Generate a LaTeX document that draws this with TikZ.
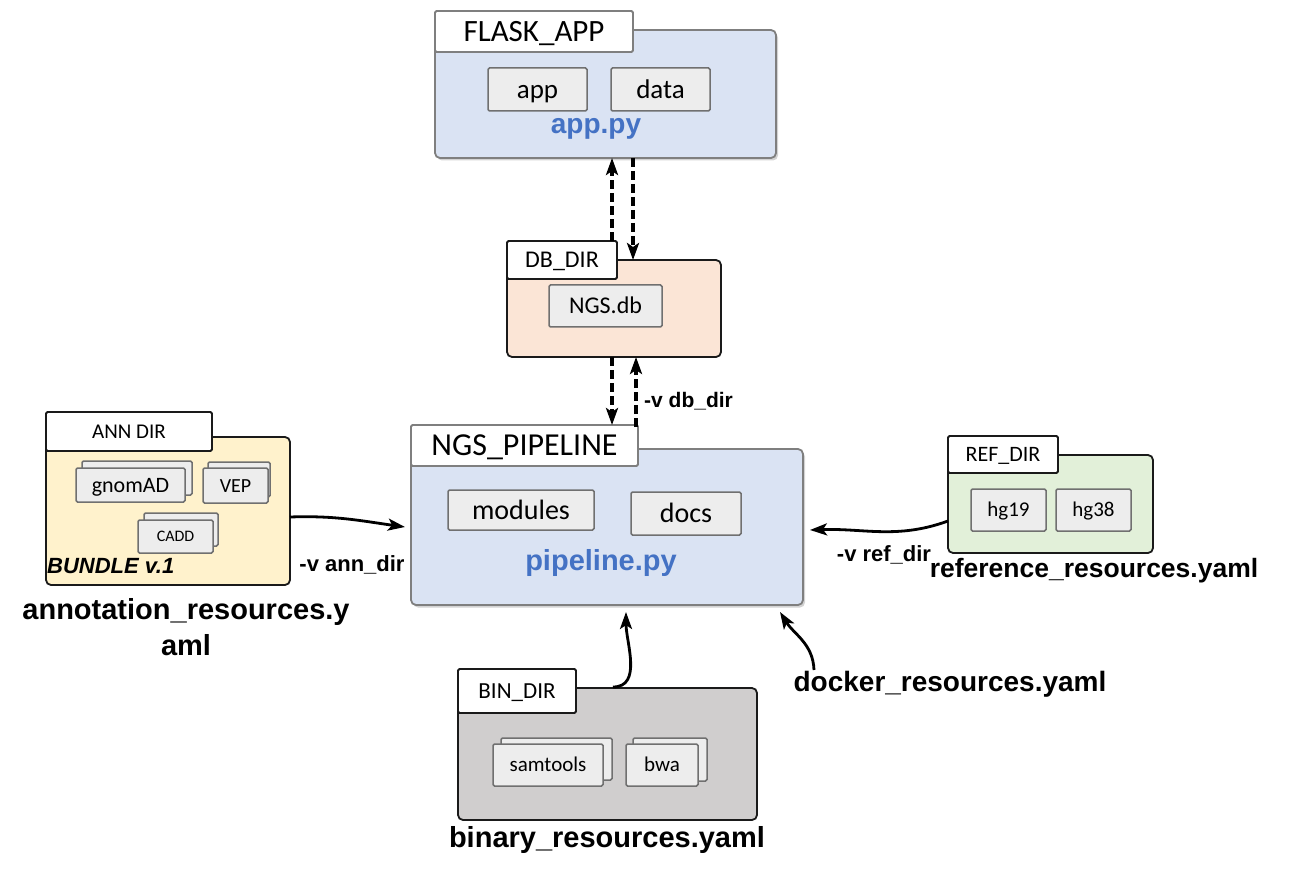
\documentclass[tikz,border=0pt]{standalone}
\usepackage{fontspec}
\setmainfont{Carlito}
\newfontfamily\lsans{Liberation Sans}
\usetikzlibrary{shadows,arrows.meta,calc}
\definecolor{bluefill}{HTML}{DAE3F3}
\definecolor{dbfill}{HTML}{FBE5D6}
\definecolor{annfill}{HTML}{FFF2CC}
\definecolor{reffill}{HTML}{E2F0D9}
\definecolor{binfill}{HTML}{D0CECE}
\definecolor{graybd}{HTML}{7F7F7F}
\definecolor{darkbd}{HTML}{1A1A1A}
\definecolor{itemfill}{HTML}{EDEDED}
\definecolor{itemline}{HTML}{707070}
\definecolor{bluetxt}{HTML}{4472C4}
\begin{document}
\begin{tikzpicture}[x=1pt,y=-1pt,
  mainbox/.style={draw=darkbd, line width=1.8pt, rounded corners=5pt, anchor=north west, inner sep=0pt, outer sep=0pt},
  tabbox/.style={draw=darkbd, fill=white, line width=1.8pt, rounded corners=1.5pt, anchor=north west, inner sep=0pt, outer sep=0pt},
  item/.style={draw=itemline, fill=itemfill, line width=1.5pt, rounded corners=1.5pt, anchor=north west, inner sep=0pt, outer sep=0pt},
  shad/.style={drop shadow={opacity=0.35, shadow xshift=2pt, shadow yshift=-2.5pt}},
  conn/.style={line width=2.8pt, -{Stealth[length=17pt,width=12pt,inset=4pt]}},
  dconn/.style={conn, line width=3.2pt, dash pattern=on 9pt off 4pt},
  bold/.style={font=\lsans\bfseries\fontsize{#1}{#1}\selectfont, inner sep=0pt},
  fs/.code={\pgfmathsetmacro\mytexth{0.65*#1}%
    \edef\mynext{\noexpand\tikzset{text height=\mytexth pt, text depth=0pt}}\mynext
    \tikzset{font=\fontsize{#1}{#1}\selectfont}},
]
\useasboundingbox (0,0) rectangle (1306,874);

% FLASK_APP
\node[mainbox, draw=graybd, fill=bluefill, shad, minimum width=341pt, minimum height=128pt] (flask) at (435,30) {};
\node[tabbox, draw=graybd, minimum width=198pt, minimum height=41pt, fs=31] (flasktab) at (435,11) {FLASK\_APP};
\node[item, minimum width=99pt, minimum height=43pt, fs=27] (app) at (488,68) {app};
\node[item, minimum width=99pt, minimum height=43pt, fs=27] (data) at (611,68) {data};
\node[bold=28, text=bluetxt] (apppy) at (596,129) {app.py};

% DB_DIR
\node[mainbox, fill=dbfill, minimum width=214pt, minimum height=97pt] (db) at (507,260) {};
\node[tabbox, minimum width=110pt, minimum height=38pt, fs=24] (dbtab) at (507,241) {DB\_DIR};
\node[item, minimum width=113pt, minimum height=42pt, fs=24] (ngsdb) at (549,285) {NGS.db};

% NGS_PIPELINE
\node[mainbox, draw=graybd, fill=bluefill, shad, minimum width=392pt, minimum height=156pt] (ngs) at (411,449) {};
\node[tabbox, draw=graybd, minimum width=227pt, minimum height=41pt, fs=32] (ngstab) at (411,425) {NGS\_PIPELINE};
\node[item, minimum width=146pt, minimum height=40pt, fs=28] (modules) at (448,490) {modules};
\node[item, minimum width=110pt, minimum height=43pt, fs=28] (docs) at (631,492) {docs};
\node[bold=29, text=bluetxt] (pipepy) at (601,563) {pipeline.py};

% ANN DIR
\node[mainbox, fill=annfill, minimum width=244pt, minimum height=148pt] (ann) at (46,437) {};
\node[tabbox, minimum width=166pt, minimum height=39pt, fs=21] (anntab) at (46,412) {ANN DIR};
\node[item, minimum width=110pt, minimum height=34pt] (gnomadb) at (82,461) {};
\node[item, minimum width=109pt, minimum height=34pt, fs=22] (gnomad) at (76,468) {gnomAD};
\node[item, minimum width=62pt, minimum height=35pt] (vepb) at (208,462) {};
\node[item, minimum width=65pt, minimum height=35pt, fs=20] (vep) at (203,468) {VEP};
\node[item, minimum width=74pt, minimum height=33pt] (caddb) at (144,513) {};
\node[item, minimum width=75pt, minimum height=33pt, fs=16] (cadd) at (138,520) {CADD};
\node[bold=22, font=\lsans\bfseries\itshape\fontsize{22}{22}\selectfont, anchor=west] (bundle) at (47,566) {BUNDLE v.1};
\node[bold=29] (annyaml1) at (186,612) {annotation\_resources.y};
\node[bold=29] (annyaml2) at (186,645) {aml};
\node[bold=22] (annv) at (352,565) {-v ann\_dir};

% REF_DIR
\node[mainbox, fill=reffill, minimum width=205pt, minimum height=98pt] (ref) at (948,455) {};
\node[tabbox, minimum width=110pt, minimum height=37pt, fs=22] (reftab) at (948,436) {REF\_DIR};
\node[item, minimum width=75pt, minimum height=42pt, fs=21] (hg19) at (971,489) {hg19};
\node[item, minimum width=75pt, minimum height=42pt, fs=21] (hg38) at (1056,489) {hg38};
\node[bold=22] (refv) at (884,555) {-v ref\_dir};
\node[bold=26.5] (refyaml) at (1094,571) {reference\_resources.yaml};

% BIN_DIR
\node[mainbox, fill=binfill, minimum width=299pt, minimum height=132pt] (bin) at (458,688) {};
\node[tabbox, minimum width=118pt, minimum height=44pt, fs=23] (bintab) at (458,669) {BIN\_DIR};
\node[item, minimum width=111pt, minimum height=42pt] (samb) at (501,738) {};
\node[item, minimum width=110pt, minimum height=42pt, fs=21] (sam) at (493,744) {samtools};
\node[item, minimum width=74pt, minimum height=43pt] (bwab) at (633,738) {};
\node[item, minimum width=72pt, minimum height=42pt, fs=21] (bwa) at (626,744) {bwa};
\node[bold=29] (binyaml) at (607,840) {binary\_resources.yaml};
\node[bold=28] (dockyaml) at (950,684) {docker\_resources.yaml};

% connector x positions
\coordinate (xa) at (612,0);
\coordinate (xb) at (633,0);
\coordinate (xc) at (636,0);
\coordinate (binstart) at (613,687);
\coordinate (dockstart) at (814,670);

% dashed connectors
\draw[dconn] (dbtab.north -| xa) -- (flask.south -| xa);
\draw[dconn] (flask.south -| xb) -- (db.north -| xb);
\draw[dconn] (db.south -| xa) -- (ngstab.north -| xa);
\draw[dconn] ($(ngstab.north -| xc)+(0,2)$) -- (db.south -| xc);
\node[bold=21, anchor=west] (dbv) at (644,401) {-v db\_dir};

% solid connectors
\draw[conn] (ann.east |- 0,517) to[out=2,in=172] ($(ngs.west |- 0,527)+(-6,0)$);
\draw[conn] (ref.west |- 0,521) to[out=200,in=2] ($(ngs.east |- 0,530)+(7,0)$);
\draw[conn] (binstart) to[out=0,in=-90] (626,612);
\draw[conn] (dockstart) to[out=92,in=-58] (780,612);
\end{tikzpicture}
\end{document}
